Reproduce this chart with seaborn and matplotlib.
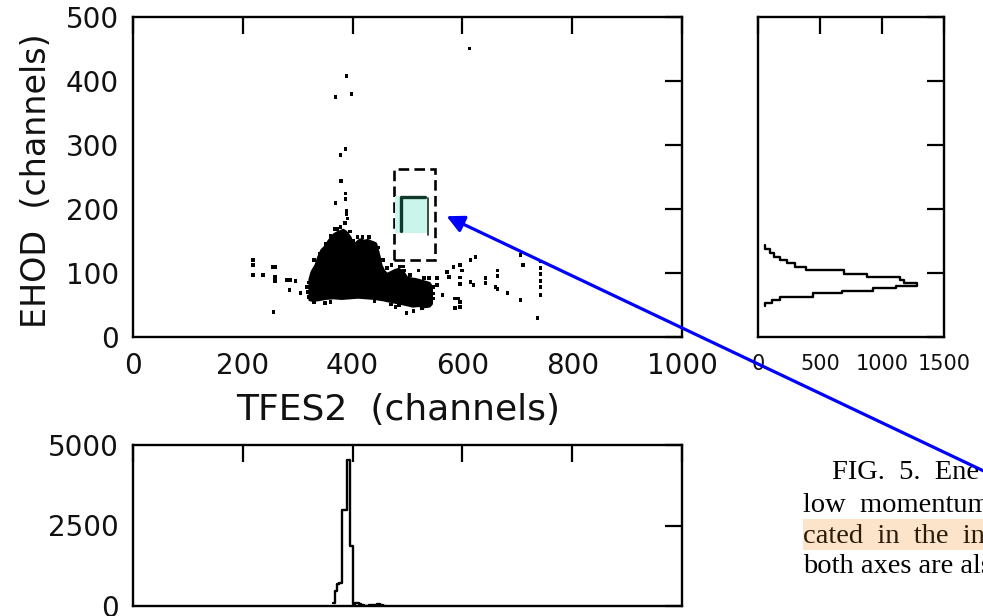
import numpy as np
import pandas as pd
import matplotlib
matplotlib.use("Agg")
import matplotlib.pyplot as plt
from matplotlib.patches import Rectangle, Polygon, FancyArrowPatch
import seaborn as sns

# ---------------- data ----------------
# dense core of the TFES2 vs EHOD distribution (outline of the saturated region)
core_tfes2 = [322, 322, 326, 333, 338, 344, 349, 355, 361, 366, 372, 378, 383, 388, 392,
              396, 399, 403, 408, 414, 421, 428, 436, 442, 445, 449, 452, 457, 463, 470,
              477, 484, 492, 497, 500, 507, 515, 524, 532, 540, 544, 544, 540, 530, 520,
              510, 500, 490, 478, 466, 455, 440, 425, 410, 395, 380, 365, 350, 338, 328]
core_ehod = [58, 90, 102, 112, 125, 136, 140, 148, 155, 160, 163, 165, 167, 164, 160,
             155, 147, 143, 148, 152, 150, 151, 148, 146, 138, 124, 112, 103, 98, 101,
             104, 106, 102, 95, 92, 91, 90, 88, 86, 84, 78, 52, 48, 47, 49,
             48, 50, 52, 54, 56, 58, 60, 61, 62, 61, 60, 61, 60, 58, 57]

# isolated events
event_tfes2 = [219, 219, 219, 237, 254, 259, 259, 259, 281, 287, 296, 285, 305, 317, 256, 350, 387,
               389, 369, 398, 387, 378, 379, 387, 387, 369, 389, 389, 391, 386, 367, 372, 378, 409,
               418, 414, 423, 435,
               463, 471, 493, 494, 520, 478, 498, 511, 527, 539, 554, 554, 564, 572, 575, 584, 596,
               599, 596, 596, 593, 596, 596, 587, 587, 615, 624, 615, 620, 642, 642, 660, 682, 710,
               706, 737, 706, 664, 664, 664, 742, 742, 742, 742, 742, 742, 613,
               318, 320, 330, 340, 352, 360, 395, 401, 430, 446, 455, 486, 505, 530, 547, 547,
               546, 320, 330, 360, 440, 470, 485]
event_ehod = [120, 113, 97, 97, 109, 109, 94, 88, 89, 89, 87, 73, 69, 78, 39, 53, 66,
              408, 375, 380, 294, 284, 244, 224, 216, 209, 197, 192, 185, 178, 169, 169, 172, 156,
              156, 147, 147, 147,
              108, 113, 110, 104, 104, 47, 37, 41, 45, 92, 92, 81, 66, 102, 94, 109, 112,
              104, 93, 83, 60, 55, 47, 60, 45, 120, 125, 86, 81, 92, 84, 78, 69, 113,
              58, 30, 128, 104, 95, 75, 118, 108, 98, 88, 78, 66, 451,
              70, 85, 120, 130, 145, 158, 165, 150, 156, 140, 120, 110, 97, 92, 78, 60,
              68, 62, 54, 55, 56, 51, 50]

# EHOD projection (bin edges in channels, counts per bin)
ehod_edges = [48, 53, 58, 63, 68, 72, 76, 80, 84, 89, 93, 99, 104, 110, 116, 120, 125, 131, 137, 144]
ehod_counts = [60, 110, 180, 440, 680, 930, 1110, 1280, 1180, 1145, 880, 690, 390, 300, 235,
               180, 130, 100, 60]

# TFES2 projection
tfes_edges = [364, 368, 372, 376, 381, 389, 396, 400, 404, 408, 412, 416, 420, 430, 440,
              445, 450, 455, 460]
tfes_counts = [100, 470, 690, 700, 2970, 4530, 1875, 60, 80, 90, 70, 30, 10, 20, 40, 50, 30, 10]

# selection windows
window_outer = (475, 120, 550, 262)   # x0, y0, x1, y1
window_inner = (478, 162, 535, 220)

# ---------------- style ----------------
sns.set_theme(style="white")
plt.rcParams["font.family"] = ["DejaVu Sans"]
plt.rcParams["axes.linewidth"] = 1.7
plt.rcParams["axes.edgecolor"] = "black"

W, H = 983, 616
fig = plt.figure(figsize=(W / 100, H / 100), dpi=100)
fig.patch.set_facecolor("white")


def frac(x0, y_top, x1, y_bot):
    return [x0 / W, 1 - y_bot / H, (x1 - x0) / W, (y_bot - y_top) / H]


ax = fig.add_axes(frac(133, 17, 682, 337))
ax_side = fig.add_axes(frac(758, 17, 944, 337))
ax_bot = fig.add_axes(frac(133, 445, 682, 606))

tick_kw = dict(direction="in", length=12, width=1.6, colors="black")
txt_color = "#111111"

# ---- main scatter ----
ax.add_patch(Polygon(np.column_stack([core_tfes2, core_ehod]), closed=True,
                     facecolor="black", edgecolor="black", lw=2.0, joinstyle="round",
                     zorder=2))
events = pd.DataFrame({"TFES2": event_tfes2, "EHOD": event_ehod})
sns.scatterplot(data=events, x="TFES2", y="EHOD", ax=ax, color="black", s=7,
                marker="s", edgecolor="none", zorder=3)

x0, y0, x1, y1 = window_outer
ax.add_patch(Rectangle((x0, y0), x1 - x0, y1 - y0, fill=False, edgecolor="black",
                       lw=1.9, linestyle=(0, (4, 2)), zorder=4))
x0, y0, x1, y1 = window_inner
ax.add_patch(Rectangle((x0, y0), x1 - x0, y1 - y0, facecolor="#c9f5ea",
                       edgecolor="none", zorder=4))
ax.plot([489, 489, 532], [165, 218, 218], color="#123a2c", lw=2.4, zorder=5)
ax.plot([538, 538], [160, 217], color="#1c2c28", lw=1.2, zorder=5)

ax.set_xlim(0, 1000)
ax.set_ylim(0, 500)
ax.set_xticks(range(0, 1001, 200))
ax.set_yticks(range(0, 501, 100))
ax.tick_params(axis="both", top=True, right=True, labelsize=20, labelcolor=txt_color, **tick_kw)
ax.tick_params(axis="x", pad=11)
ax.tick_params(axis="y", pad=10)
ax.set_xlabel("TFES2  (channels)", fontsize=26, color=txt_color)
ax.set_ylabel("EHOD  (channels)", fontsize=24, color=txt_color)
ax.xaxis.set_label_coords(0.483, -0.175)
ax.yaxis.set_label_coords(-0.145, 0.49)

# ---- EHOD projection ----
ehod_centers = [(a + b) / 2 for a, b in zip(ehod_edges[:-1], ehod_edges[1:])]
sns.histplot(y=ehod_centers, weights=ehod_counts, bins=ehod_edges, element="step",
             fill=False, color="black", linewidth=1.7, ax=ax_side)
ax_side.set_xlim(0, 1500)
ax_side.set_ylim(0, 500)
ax_side.set_xticks([0, 500, 1000, 1500])
ax_side.set_yticks(range(0, 501, 100))
ax_side.tick_params(axis="both", top=True, right=True, labelsize=15, labelcolor=txt_color,
                    **tick_kw)
ax_side.tick_params(axis="x", pad=12)
ax_side.tick_params(axis="y", labelleft=False)
ax_side.set_xlabel("")
ax_side.set_ylabel("")

# ---- TFES2 projection ----
tfes_centers = [(a + b) / 2 for a, b in zip(tfes_edges[:-1], tfes_edges[1:])]
sns.histplot(x=tfes_centers, weights=tfes_counts, bins=tfes_edges, element="step",
             fill=False, color="black", linewidth=1.7, ax=ax_bot)
ax_bot.set_xlim(0, 1000)
ax_bot.set_ylim(0, 5000)
ax_bot.set_xticks(range(0, 1001, 200))
ax_bot.set_yticks([0, 2500, 5000])
ax_bot.tick_params(axis="both", top=True, right=True, labelsize=20, labelcolor=txt_color,
                   **tick_kw)
ax_bot.tick_params(axis="x", labelbottom=False)
ax_bot.tick_params(axis="y", pad=10)
ax_bot.set_xlabel("")
ax_bot.set_ylabel("")

for a in (ax, ax_side, ax_bot):
    for s in a.spines.values():
        s.set_visible(True)
        s.set_color("black")
        s.set_linewidth(1.7)

# ---- caption fragment ----
fig.add_artist(Rectangle((803 / W, 1 - 550 / H), (W - 803) / W, 31 / H,
                         transform=fig.transFigure, facecolor="#fbe4c9",
                         edgecolor="none", zorder=0))
cap_kw = dict(fontsize=20.5, family=["Liberation Serif", "DejaVu Serif"], va="baseline",
              ha="left", color="black")
fig.text(832 / W, 1 - 479 / H, "FIG.  5.  Ene", **cap_kw)
fig.text(803 / W, 1 - 512 / H, "low  momentum", **cap_kw)
fig.text(803 / W, 1 - 543 / H, "cated  in  the  in", **{**cap_kw, "color": "#2a1a08"})
fig.text(803 / W, 1 - 573 / H, "both axes are als", **cap_kw)

# ---- pointer arrow ----
fig.add_artist(FancyArrowPatch((990 / W, 1 - 474 / H), (444 / W, 1 - 215 / H),
                               transform=fig.transFigure, arrowstyle="-|>",
                               mutation_scale=26, color="#0000ff", lw=2.3, zorder=10))

fig.savefig("out.png", dpi=100)
